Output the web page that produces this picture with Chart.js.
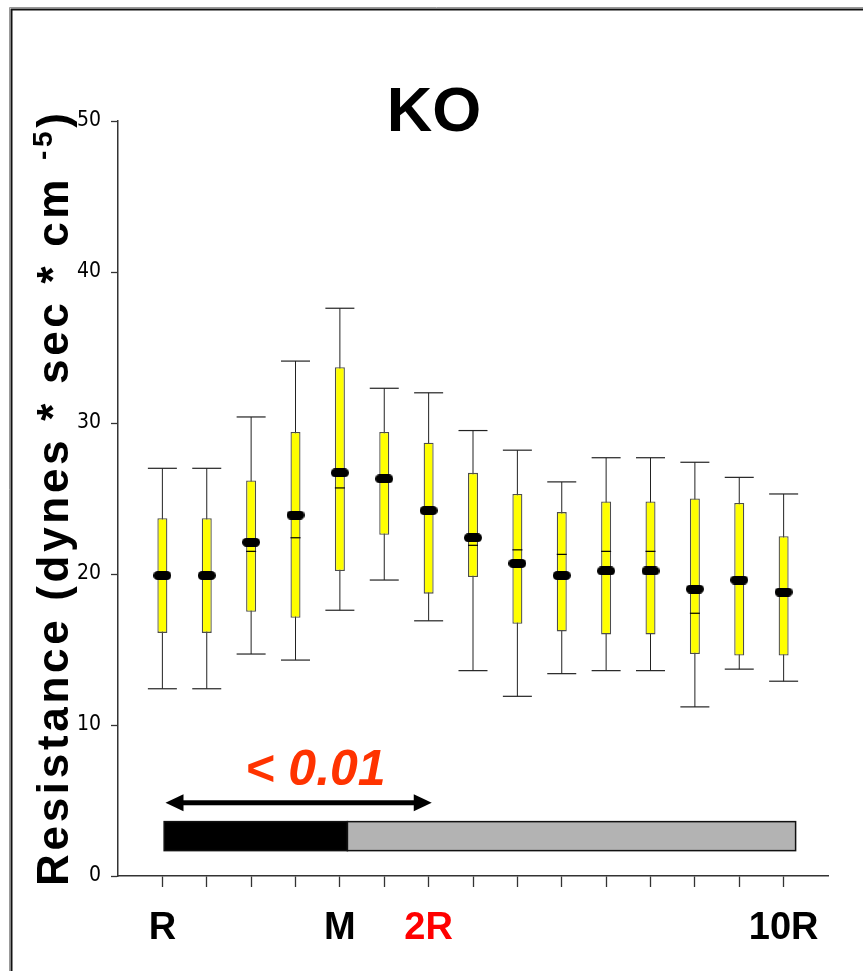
<!DOCTYPE html>
<html>
<head>
<meta charset="utf-8">
<title>KO resistance</title>
<script src="https://cdn.jsdelivr.net/npm/chart.js@4.4.1/dist/chart.umd.min.js"></script>
<style>
  html, body { margin: 0; padding: 0; background: #fff; }
  #wrap { width: 863px; height: 971px; }
</style>
</head>
<body>
<div id="wrap"><canvas id="resistanceChart" width="863" height="971"></canvas></div>
<script>
// one box per time point, 15 time points
const timePoints = [0, 1, 2, 3, 4, 5, 6, 7, 8, 9, 10, 11, 12, 13, 14];
const whiskerLow  = [12.4, 12.4, 14.7, 14.3, 17.6, 19.6, 16.9, 13.6, 11.9, 13.4, 13.6, 13.6, 11.2, 13.7, 12.9];
const quartile1   = [16.1, 16.1, 17.5, 17.1, 20.2, 22.6, 18.7, 19.8, 16.7, 16.2, 16.0, 16.0, 14.7, 14.6, 14.6];
const medians     = [19.9, 19.9, 21.5, 22.4, 25.7, 26.1, 24.2, 21.9, 21.6, 21.3, 21.5, 21.5, 17.4, 19.6, 18.8];
const quartile3   = [23.7, 23.7, 26.2, 29.4, 33.7, 29.4, 28.7, 26.7, 25.3, 24.1, 24.8, 24.8, 25.0, 24.7, 22.5];
const whiskerHigh = [27.0, 27.0, 30.4, 34.1, 37.6, 32.3, 32.0, 29.5, 28.2, 26.1, 27.7, 27.7, 27.4, 26.4, 25.3];
const means       = [19.9, 19.9, 22.1, 23.9, 26.7, 26.3, 24.2, 22.4, 20.7, 19.9, 20.2, 20.2, 19.0, 19.6, 18.8];

// labelled ticks on the time axis
const tickPositions = [0, 4, 6, 14];
const tickNames = ["R", "M", "2R", "10R"];

// y axis
const yTicks = [0, 10, 20, 30, 40, 50];

// protocol phases under the boxes (x edges, y band)
const phaseEdges = [0.04, 4.17, 14.27];
const phaseBand = [1.68, 3.6];

// significance arrow and its p value
const arrowSpan = [0.07, 6.07];
const arrowLevel = 4.85;
const pText = "< 0.01";
const pTextAt = [3.45, 6.0];

const titleText = "KO";
const yTitleParts = ["Resistance (dynes * sec * cm ", "-5", ")"];

const FONT = '"Liberation Sans", Arial, sans-serif';
const NARROW = '"Liberation Sans Narrow", "Arial Narrow", "DejaVu Sans Condensed", ' + FONT;

function toPoints(values) {
  return timePoints.map((x, i) => ({ x: x, y: values[i] }));
}

function toRanges(low, high) {
  return timePoints.map((x, i) => ({ x: x, y: [low[i], high[i]] }));
}

// black rounded marker for the mean
function pillMarker(w, h) {
  const c = document.createElement("canvas");
  c.width = w;
  c.height = h;
  const g = c.getContext("2d");
  const r = h / 2;
  g.fillStyle = "#000";
  g.beginPath();
  g.arc(r, r, r, Math.PI / 2, Math.PI * 1.5);
  g.lineTo(w - r, 0);
  g.arc(w - r, r, r, -Math.PI / 2, Math.PI / 2);
  g.closePath();
  g.fill();
  return c;
}

const framePlugin = {
  id: "frameAndTitles",
  beforeDraw(chart) {
    const ctx = chart.ctx;
    ctx.save();
    ctx.fillStyle = "#fff";
    ctx.fillRect(0, 0, chart.width, chart.height);
    ctx.strokeStyle = "#999";
    ctx.lineWidth = 1;
    ctx.beginPath();
    ctx.moveTo(9.5, chart.height);
    ctx.lineTo(9.5, 7.5);
    ctx.lineTo(chart.width, 7.5);
    ctx.stroke();
    ctx.strokeStyle = "#111";
    ctx.lineWidth = 2;
    ctx.beginPath();
    ctx.moveTo(11.5, chart.height);
    ctx.lineTo(11.5, 9.5);
    ctx.lineTo(chart.width, 9.5);
    ctx.stroke();
    ctx.restore();
  },
  afterDraw(chart) {
    const ctx = chart.ctx;
    ctx.save();
    // title
    ctx.fillStyle = "#000";
    ctx.font = "bold 63px " + FONT;
    ctx.textAlign = "center";
    ctx.textBaseline = "alphabetic";
    ctx.fillText(titleText, 434, 131);

    // spaced-out y title with superscript
    const bigFont = "bold 44px " + FONT;
    const supFont = "bold 28px " + FONT;
    const chars = [];
    yTitleParts.forEach((part, p) => {
      for (const ch of part) chars.push({ ch, sup: p === 1 });
    });
    let natural = 0;
    chars.forEach(c => {
      ctx.font = c.sup ? supFont : bigFont;
      c.w = ctx.measureText(c.ch).width;
      natural += c.w;
    });
    const length = 773;
    const gap = (length - natural) / (chars.length - 1);
    ctx.translate(68, 886);
    ctx.rotate(-Math.PI / 2);
    ctx.textAlign = "left";
    let pos = 0;
    chars.forEach(c => {
      ctx.font = c.sup ? supFont : bigFont;
      ctx.fillText(c.ch, pos, c.sup ? -16 : 0);
      pos += c.w + gap;
    });
    ctx.restore();
  }
};

const phasePlugin = {
  id: "phaseAndArrow",
  afterDatasetsDraw(chart) {
    const { ctx, scales: { x, y } } = chart;
    ctx.save();

    // phase bar: black then grey
    const fills = ["#000", "#b3b3b3"];
    const top = y.getPixelForValue(phaseBand[1]);
    const bottom = y.getPixelForValue(phaseBand[0]);
    for (let i = 0; i < phaseEdges.length - 1; i++) {
      const left = x.getPixelForValue(phaseEdges[i]);
      const right = x.getPixelForValue(phaseEdges[i + 1]);
      ctx.fillStyle = fills[i];
      ctx.fillRect(left, top, right - left, bottom - top);
      ctx.strokeStyle = "#111";
      ctx.lineWidth = 1.5;
      ctx.strokeRect(left, top, right - left, bottom - top);
    }

    // double arrow
    const ay = y.getPixelForValue(arrowLevel);
    const ax0 = x.getPixelForValue(arrowSpan[0]);
    const ax1 = x.getPixelForValue(arrowSpan[1]);
    const head = 18;
    const half = 8.5;
    ctx.fillStyle = "#000";
    ctx.fillRect(ax0 + head - 1, ay - 2.5, ax1 - ax0 - 2 * head + 2, 5);
    ctx.beginPath();
    ctx.moveTo(ax0, ay);
    ctx.lineTo(ax0 + head, ay - half);
    ctx.lineTo(ax0 + head, ay + half);
    ctx.closePath();
    ctx.fill();
    ctx.beginPath();
    ctx.moveTo(ax1, ay);
    ctx.lineTo(ax1 - head, ay - half);
    ctx.lineTo(ax1 - head, ay + half);
    ctx.closePath();
    ctx.fill();

    // p value
    ctx.fillStyle = "#ff3300";
    ctx.font = "italic bold 50px " + FONT;
    ctx.textAlign = "center";
    ctx.textBaseline = "alphabetic";
    ctx.fillText(pText, x.getPixelForValue(pTextAt[0]), y.getPixelForValue(pTextAt[1]));
    ctx.restore();
  }
};

function initChart() {
  const ctx = document.getElementById("resistanceChart");

  new Chart(ctx, {
    type: "bar",
    data: {
      datasets: [
        {
          type: "line",
          label: "Mean",
          data: toPoints(means),
          showLine: false,
          pointStyle: pillMarker(18, 9),
          order: 0
        },
        {
          type: "line",
          label: "Median",
          data: toPoints(medians),
          showLine: false,
          pointStyle: "line",
          pointRadius: 5,
          pointBorderWidth: 1.2,
          pointBorderColor: "#000",
          order: 1
        },
        {
          label: "Interquartile range",
          data: toRanges(quartile1, quartile3),
          backgroundColor: "#ffff00",
          borderColor: "#4d4d4d",
          borderWidth: 1.3,
          borderSkipped: false,
          maxBarThickness: 10,
          grouped: false,
          order: 2
        },
        {
          type: "line",
          label: "Upper whisker",
          data: toPoints(whiskerHigh),
          showLine: false,
          pointStyle: "line",
          pointRadius: 14.5,
          pointBorderWidth: 1.2,
          pointBorderColor: "#222",
          order: 3
        },
        {
          type: "line",
          label: "Lower whisker",
          data: toPoints(whiskerLow),
          showLine: false,
          pointStyle: "line",
          pointRadius: 14.5,
          pointBorderWidth: 1.2,
          pointBorderColor: "#222",
          order: 3
        },
        {
          label: "Range",
          data: toRanges(whiskerLow, whiskerHigh),
          backgroundColor: "#222",
          borderWidth: 0,
          maxBarThickness: 1,
          grouped: false,
          order: 5
        }
      ]
    },
    options: {
      responsive: false,
      animation: false,
      events: [],
      devicePixelRatio: 1,
      layout: { padding: { top: 121, right: 35, bottom: 0, left: 0 } },
      plugins: {
        legend: { display: false },
        tooltip: { enabled: false },
        title: { display: false }
      },
      scales: {
        x: {
          type: "linear",
          min: -1,
          max: 15,
          offset: false,
          afterBuildTicks: scale => {
            const ticks = [];
            for (let v = -1; v <= 15; v++) ticks.push({ value: v });
            scale.ticks = ticks;
          },
          afterFit: scale => { scale.height = 95; },
          ticks: {
            autoSkip: false,
            maxRotation: 0,
            padding: 19,
            font: { family: FONT, size: 38, weight: "bold" },
            color: c => (c.tick && c.tick.value === 6 ? "#ff0000" : "#000"),
            callback: value => {
              const k = tickPositions.indexOf(value);
              return k >= 0 ? tickNames[k] : "";
            }
          },
          grid: {
            offset: false,
            drawOnChartArea: false,
            drawTicks: true,
            tickLength: 11,
            tickWidth: 1.3,
            tickColor: c => (c.tick && (c.tick.value < 0 || c.tick.value > 14) ? "rgba(0,0,0,0)" : "#333")
          },
          border: { color: "#333", width: 1.5 }
        },
        y: {
          type: "linear",
          min: 0,
          max: 50,
          afterBuildTicks: scale => {
            scale.ticks = yTicks.map(v => ({ value: v }));
          },
          afterFit: scale => { scale.width = 118; },
          ticks: {
            padding: 10,
            color: "#000",
            font: { family: NARROW, size: 21 }
          },
          grid: {
            drawOnChartArea: false,
            drawTicks: true,
            tickLength: 7,
            tickWidth: 1.3,
            tickColor: "#333"
          },
          border: { color: "#333", width: 1.5 }
        }
      }
    },
    plugins: [framePlugin, phasePlugin]
  });
}

document.addEventListener("DOMContentLoaded", initChart);
</script>
</body>
</html>
